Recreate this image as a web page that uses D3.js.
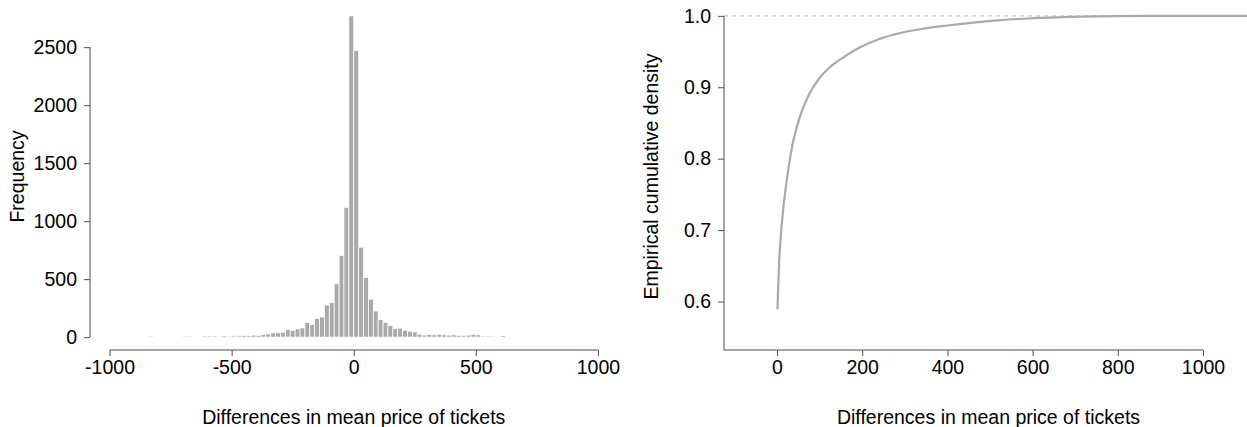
<!DOCTYPE html>
<html>
<head>
<meta charset="utf-8">
<script src="https://cdn.jsdelivr.net/npm/d3@7"></script>
<style>
  html, body { margin: 0; padding: 0; background: #fff; }
  svg { display: block; }
  text { font-family: "Liberation Sans", Arial, sans-serif; fill: #000; }
</style>
</head>
<body>
<svg id="chart" width="1247" height="427"></svg>
<script>
// Histogram of price differences: lower edge of each 20-unit bin and its count
const binWidth = 20;
const binLower = [
  -860, -840, -820, -800, -780, -760, -740, -720, -700, -680,
  -660, -640, -620, -600, -580, -560, -540, -520, -500, -480,
  -460, -440, -420, -400, -380, -360, -340, -320, -300, -280,
  -260, -240, -220, -200, -180, -160, -140, -120, -100, -80,
  -60, -40, -20, 0, 20, 40, 60, 80, 100, 120,
  140, 160, 180, 200, 220, 240, 260, 280, 300, 320,
  340, 360, 380, 400, 420, 440, 460, 480, 500, 520,
  540, 560, 580, 600
];
const binCounts = [
  0, 9, 0, 0, 0, 0, 0, 0, 9, 9,
  0, 0, 10, 10, 11, 9, 12, 9, 11, 12,
  13, 15, 18, 16, 22, 28, 37, 37, 43, 66,
  57, 71, 80, 126, 108, 160, 174, 277, 300, 460,
  705, 1119, 2770, 2472, 776, 514, 328, 225, 151, 128,
  100, 74, 77, 60, 51, 45, 26, 18, 22, 20,
  24, 20, 18, 20, 16, 16, 18, 24, 20, 10,
  10, 9, 0, 14
];
const histXTicks = [-1000, -500, 0, 500, 1000];
const histYTicks = [0, 500, 1000, 1500, 2000, 2500];

// Empirical cumulative distribution of the absolute differences
const ecdfX = [1, 5, 11, 23, 34, 54, 77, 100, 124, 164, 195, 242, 289, 343, 400, 460, 523, 601, 711, 868, 1120];
const ecdfY = [0.589, 0.654, 0.707, 0.770, 0.812, 0.859, 0.892, 0.913, 0.928, 0.945, 0.956, 0.968, 0.976, 0.982, 0.9865, 0.9905, 0.994, 0.9967, 0.999, 1.0, 1.0];
const ecdfXTicks = [0, 200, 400, 600, 800, 1000];
const ecdfYTicks = [0.6, 0.7, 0.8, 0.9, 1.0];

const xTitle = "Differences in mean price of tickets";
const histYTitle = "Frequency";
const ecdfYTitle = "Empirical cumulative density";

const svg = d3.select("#chart");
const axisColor = "#4d4d4d";
const barColor = "#a9a9a9";
const fontSize = 19.5;
const tickLen = 6;

// ---------- left panel: histogram ----------
const L = { left: 90, right: 617.5, top: 3, bottom: 350 };
const maxCount = d3.max(binCounts);
const xL = d3.scaleLinear().domain([-1080, 1080]).range([L.left, L.right]);
const yL = d3.scaleLinear().domain([-0.04 * maxCount, 1.04 * maxCount]).range([L.bottom, L.top]);

const gL = svg.append("g");
gL.selectAll("rect.bar")
  .data(binLower.map((b, i) => ({ x0: b, x1: b + binWidth, n: binCounts[i] })).filter(d => d.n > 0))
  .join("rect")
  .attr("class", "bar")
  .attr("x", d => xL(d.x0))
  .attr("width", d => xL(d.x1) - xL(d.x0))
  .attr("y", d => yL(d.n))
  .attr("height", d => yL(0) - yL(d.n))
  .attr("fill", barColor)
  .attr("stroke", "#fff")
  .attr("stroke-width", 0.8);

function styleAxis(g) {
  g.select(".domain").remove();
  g.selectAll(".tick line").attr("stroke", axisColor);
  g.selectAll(".tick text").attr("font-size", fontSize).attr("fill", "#000")
    .style("font-family", '"Liberation Sans", Arial, sans-serif');
}

const axXL = gL.append("g").attr("transform", `translate(0,${L.bottom})`)
  .call(d3.axisBottom(xL).tickValues(histXTicks).tickFormat(d3.format("d")).tickSize(tickLen).tickPadding(4))
  .call(styleAxis);
axXL.append("line")
  .attr("x1", xL(histXTicks[0])).attr("x2", xL(histXTicks[histXTicks.length - 1]))
  .attr("stroke", axisColor);
axXL.selectAll(".tick text").text(d => d < 0 ? "-" + Math.abs(d) : d);

const axYL = gL.append("g").attr("transform", `translate(${L.left},0)`)
  .call(d3.axisLeft(yL).tickValues(histYTicks).tickFormat(d3.format("d")).tickSize(tickLen).tickPadding(7))
  .call(styleAxis);
axYL.append("line")
  .attr("y1", yL(histYTicks[0])).attr("y2", yL(histYTicks[histYTicks.length - 1]))
  .attr("stroke", axisColor);

gL.append("text")
  .attr("x", (L.left + L.right) / 2).attr("y", 424)
  .attr("text-anchor", "middle").attr("font-size", fontSize)
  .text(xTitle);
gL.append("text")
  .attr("transform", `translate(24,${(L.top + L.bottom) / 2}) rotate(-90)`)
  .attr("text-anchor", "middle").attr("font-size", fontSize)
  .text(histYTitle);

// ---------- right panel: ECDF ----------
const R = { left: 724, right: 1253, top: 3, bottom: 350 };
const xR = d3.scaleLinear().domain([-124.4, 1117.4]).range([R.left, R.right]);
const yR = d3.scaleLinear().domain([0.532, 1.018]).range([R.bottom, R.top]);

const gR = svg.append("g");

// reference line at the upper bound of the distribution
gR.append("line")
  .attr("x1", R.left).attr("x2", R.right)
  .attr("y1", yR(1)).attr("y2", yR(1))
  .attr("stroke", "#c4c4c4").attr("stroke-width", 1.2)
  .attr("stroke-dasharray", "4,4");

const line = d3.line().x(d => xR(d[0])).y(d => yR(d[1])).curve(d3.curveMonotoneX);
gR.append("path")
  .datum(ecdfX.map((x, i) => [x, ecdfY[i]]))
  .attr("d", line)
  .attr("fill", "none")
  .attr("stroke", barColor)
  .attr("stroke-width", 2.2);

const axXR = gR.append("g").attr("transform", `translate(0,${R.bottom})`)
  .call(d3.axisBottom(xR).tickValues(ecdfXTicks).tickFormat(d3.format("d")).tickSize(tickLen).tickPadding(4))
  .call(styleAxis);
axXR.append("line")
  .attr("x1", R.left).attr("x2", xR(ecdfXTicks[ecdfXTicks.length - 1]))
  .attr("stroke", axisColor);

const axYR = gR.append("g").attr("transform", `translate(${R.left},0)`)
  .call(d3.axisLeft(yR).tickValues(ecdfYTicks).tickFormat(d3.format(".1f")).tickSize(tickLen).tickPadding(7))
  .call(styleAxis);
axYR.append("line")
  .attr("y1", R.bottom).attr("y2", yR(ecdfYTicks[ecdfYTicks.length - 1]))
  .attr("stroke", axisColor);

gR.append("text")
  .attr("x", (R.left + R.right) / 2).attr("y", 424)
  .attr("text-anchor", "middle").attr("font-size", fontSize)
  .text(xTitle);
gR.append("text")
  .attr("transform", `translate(658,${(R.top + R.bottom) / 2}) rotate(-90)`)
  .attr("text-anchor", "middle").attr("font-size", fontSize)
  .text(ecdfYTitle);
</script>
</body>
</html>
